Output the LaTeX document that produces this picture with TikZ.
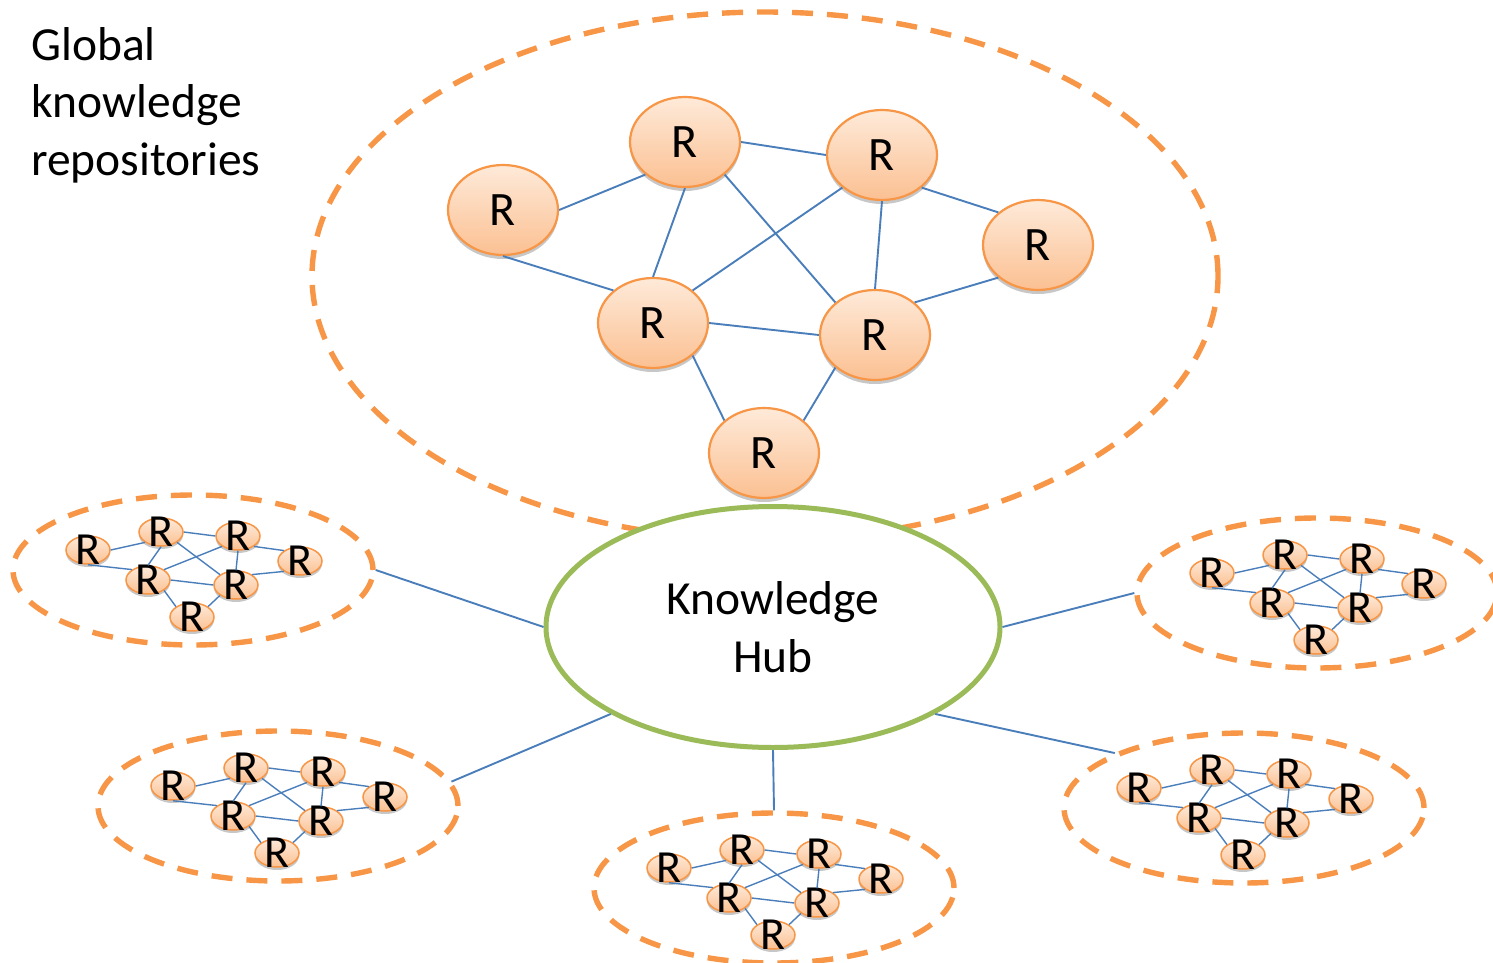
\documentclass[tikz,border=0pt]{standalone}
\usepackage{fontspec}
\setmainfont{Carlito}
\usetikzlibrary{shapes.geometric,shadows}
\definecolor{ored}{RGB}{247,150,70}
\definecolor{otop}{RGB}{254,234,217}
\definecolor{obot}{RGB}{251,192,146}
\definecolor{eblue}{RGB}{74,126,187}
\definecolor{hgreen}{RGB}{155,187,89}
\tikzset{
  rshadow/.style={drop shadow={shadow xshift=0pt,shadow yshift=-4pt,opacity=0.22,fill=black}},
  bigr/.style={ellipse, draw=ored, line width=2.2pt, top color=otop, bottom color=obot,
    minimum width=110pt, minimum height=90pt, inner sep=0pt, rshadow,
    font=\fontsize{48}{48}\selectfont},
  smr/.style={ellipse, draw=ored, line width=1.5pt, top color=otop, bottom color=obot,
    minimum width=44pt, minimum height=28pt, inner sep=0pt,
    drop shadow={shadow xshift=0pt,shadow yshift=-3pt,opacity=0.22,fill=black},
    label={[font=\fontsize{46}{46}\selectfont, inner sep=0pt]center:R}},
  dashring/.style={ellipse, draw=ored, line width=5.4pt, dash pattern=on 21pt off 14pt, inner sep=0pt},
  clus/.style={dashring, minimum width=360pt, minimum height=150pt},
  link/.style={draw=eblue, line width=1.9pt},
  slink/.style={draw=eblue, line width=1.4pt},
  hub/.style={ellipse, draw=hgreen, line width=5pt, fill=white, minimum width=454pt,
    minimum height=241pt, inner sep=0pt, align=center, font=\fontsize{47.5}{58}\selectfont},
}
\newcommand\rcluster[3]{%
\begin{scope}[shift={(#2,#3)}]
\node[clus] (#1) at (193,570) {};
\node[smr] (#1a) at (88,550) {};
\node[smr] (#1b) at (161,532) {};
\node[smr] (#1c) at (238,536) {};
\node[smr] (#1d) at (300,561) {};
\node[smr] (#1e) at (148,580) {};
\node[smr] (#1f) at (236,585) {};
\node[smr] (#1g) at (192,617) {};
\draw[slink] (#1a.east) -- (#1b.south west);
\draw[slink] (#1a.south) -- (#1e.north west);
\draw[slink] (#1b.east) -- (#1c.west);
\draw[slink] (#1b.south) -- (#1e.north);
\draw[slink] (#1b.south east) -- (#1f.north west);
\draw[slink] (#1c.south west) -- (#1e.north east);
\draw[slink] (#1c.south) -- (#1f.north);
\draw[slink] (#1c.south east) -- (#1d.north west);
\draw[slink] (#1d.south west) -- (#1f.north east);
\draw[slink] (#1e.east) -- (#1f.west);
\draw[slink] (#1e.south east) -- (#1g.north west);
\draw[slink] (#1f.south west) -- (#1g.north east);
\end{scope}}
\begin{document}
\begin{tikzpicture}[x=1pt,y=-1pt]
\useasboundingbox (0,0) rectangle (1493,963);
% title
\node[anchor=north west, align=left, inner sep=0pt, font=\fontsize{47.5}{57.5}\selectfont] (title) at (31,27) {Global\\knowledge\\repositories};
% global repositories
\node[dashring, minimum width=906pt, minimum height=528pt] (glob) at (765,276) {};
\node[bigr] (A) at (503,210) {R};
\node[bigr] (B) at (685,142) {R};
\node[bigr] (C) at (882,155) {R};
\node[bigr] (D) at (1038,245) {R};
\node[bigr] (E) at (653,323) {R};
\node[bigr] (F) at (875,335) {R};
\node[bigr] (G) at (764,453) {R};
\draw[link] (A.east) -- (B.south west);
\draw[link] (A.south) -- (E.north west);
\draw[link] (B.east) -- (C.west);
\draw[link] (B.south) -- (E.north);
\draw[link] (B.south east) -- (F.north west);
\draw[link] (C.south west) -- (E.north east);
\draw[link] (C.south) -- (F.north);
\draw[link] (C.south east) -- (D.north west);
\draw[link] (D.south west) -- (F.north east);
\draw[link] (E.east) -- (F.west);
\draw[link] (E.south east) -- (G.north west);
\draw[link] (F.south west) -- (G.north east);
% hub
\node[hub] (hub) at (773,627) {Knowledge\\Hub};
% local clusters
\rcluster{ca}{0}{0}
\rcluster{cb}{1124}{23}
\rcluster{cc}{85}{236}
\rcluster{cd}{581}{318}
\rcluster{ce}{1051}{238}
\draw[link] (hub.west) -- (ca.east);
\draw[link] (hub.east) -- (cb.west);
\draw[link] (hub.south west) -- (cc.8);
\draw[link] (hub.south) -- (cd.north);
\draw[link] (hub.south east) -- (ce.north west);
\end{tikzpicture}
\end{document}
